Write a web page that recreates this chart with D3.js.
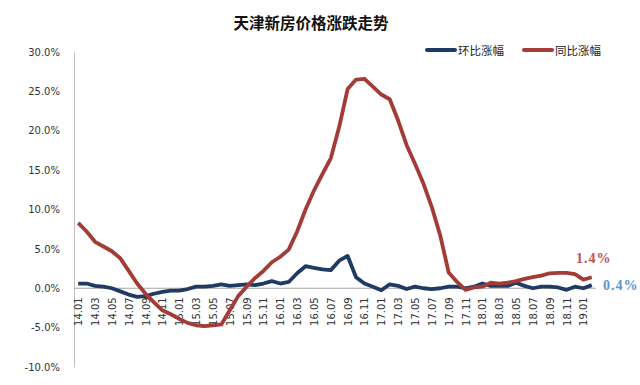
<!DOCTYPE html>
<html><head><meta charset="utf-8">
<script src="https://cdn.jsdelivr.net/npm/d3@7"></script>
<style>body{margin:0;background:#fff}svg{display:block}</style>
</head><body>
<svg id="c" width="640" height="385"></svg>
<script>
const months = ["14.01","14.02","14.03","14.04","14.05","14.06","14.07","14.08","14.09","14.10","14.11","14.12",
"15.01","15.02","15.03","15.04","15.05","15.06","15.07","15.08","15.09","15.10","15.11","15.12",
"16.01","16.02","16.03","16.04","16.05","16.06","16.07","16.08","16.09","16.10","16.11","16.12",
"17.01","17.02","17.03","17.04","17.05","17.06","17.07","17.08","17.09","17.10","17.11","17.12",
"18.01","18.02","18.03","18.04","18.05","18.06","18.07","18.08","18.09","18.10","18.11","18.12",
"19.01","19.02"];
const momValues = [0.6,0.6,0.3,0.2,0.0,-0.4,-0.8,-1.1,-1.0,-0.7,-0.45,-0.3,
-0.3,-0.1,0.2,0.2,0.3,0.5,0.3,0.4,0.5,0.4,0.6,0.9,
0.6,0.8,1.9,2.8,2.6,2.4,2.3,3.5,4.1,1.4,0.6,0.2,
-0.25,0.5,0.3,-0.1,0.2,0.0,-0.1,0.0,0.2,0.2,0.0,0.2,
0.6,0.3,0.3,0.3,0.7,0.3,0.0,0.2,0.2,0.1,-0.2,0.2,
0.0,0.4];
const yoyValues = [8.3,7.2,5.9,5.3,4.7,3.8,2.2,0.6,-0.7,-1.8,-2.8,-3.3,
-3.9,-4.4,-4.7,-4.8,-4.7,-4.6,-2.8,-1.0,0.2,1.3,2.2,3.3,
4.0,4.9,7.2,10.0,12.4,14.5,16.5,20.5,25.3,26.5,26.6,25.6,
24.6,24.0,21.3,18.2,15.8,13.3,10.3,6.7,2.0,0.8,-0.2,0.1,
0.2,0.7,0.6,0.7,0.9,1.2,1.4,1.6,1.9,1.95,1.95,1.8,
1.1,1.4];
const yTicks = [-10,-5,0,5,10,15,20,25,30];
const xTickLabels = months.filter((m,i)=>i%2===0);
const seriesNames = ["环比涨幅","同比涨幅"];
const title = "天津新房价格涨跌走势";
const endLabels = ["1.4%","0.4%"];

const blue = "#1f3b63", red = "#a33b36";
const svg = d3.select("#c");
const x = d3.scalePoint().domain(months).range([74,596]).padding(0.5);
const y = d3.scaleLinear().domain([-10,30]).range([367,52]);

svg.append("text").attr("x",311).attr("y",29).attr("text-anchor","middle")
  .style("font-family","'Noto Sans CJK SC'").style("font-weight","bold").style("font-size","15.5px")
  .attr("fill","#111").text(title);

// y axis
const ya = svg.append("g").attr("transform","translate(74,0)")
  .call(d3.axisLeft(y).tickValues(yTicks).tickSize(0).tickPadding(14).tickFormat(d=>d.toFixed(1)+"%"));
ya.select(".domain").attr("stroke","#bfbfbf");
ya.selectAll("text").style("font-family","'DejaVu Sans'").style("font-size","10px").attr("fill","#333");

// x axis
const xa = svg.append("g").attr("transform",`translate(0,${y(0)})`)
  .call(d3.axisBottom(x).tickValues(xTickLabels).tickSize(0));
xa.select(".domain").attr("stroke","#a6a6a6").attr("d",`M74,0H596`);
xa.selectAll("text").attr("transform","rotate(-90)").attr("x",-9).attr("y",0).attr("dy","0.35em")
  .style("text-anchor","end").style("font-family","'DejaVu Sans'").style("font-size","10px").attr("fill","#333");

const line = d3.line().x((d,i)=>x(months[i])).y(d=>y(d));
svg.append("path").datum(momValues).attr("d",line).attr("fill","none").attr("stroke",blue)
  .attr("stroke-width",3.8).attr("stroke-linejoin","round");
svg.append("path").datum(yoyValues).attr("d",line).attr("fill","none").attr("stroke",red)
  .attr("stroke-width",3.8).attr("stroke-linejoin","round");

// legend
const lg = [{n:seriesNames[0],c:blue,x:427},{n:seriesNames[1],c:red,x:524}];
lg.forEach(l=>{
  svg.append("line").attr("x1",l.x).attr("x2",l.x+28).attr("y1",50).attr("y2",50)
    .attr("stroke",l.c).attr("stroke-width",4).attr("stroke-linecap","round");
  svg.append("text").attr("x",l.x+31).attr("y",54.5).text(l.n)
    .style("font-family","'Noto Sans CJK SC'").style("font-size","11.5px").attr("fill","#222");
});

// end labels
const last = months.length-1;
svg.append("text").attr("x",576).attr("y",263).text(endLabels[0])
  .style("font-family","'Liberation Serif'").style("font-weight","bold").style("font-size","14px")
  .style("letter-spacing","1px").attr("fill","#c0504d");
svg.append("text").attr("x",603).attr("y",290).text(endLabels[1])
  .style("font-family","'Liberation Serif'").style("font-weight","bold").style("font-size","14px")
  .style("letter-spacing","1px").attr("fill","#5b93d3");
</script>
</body></html>
